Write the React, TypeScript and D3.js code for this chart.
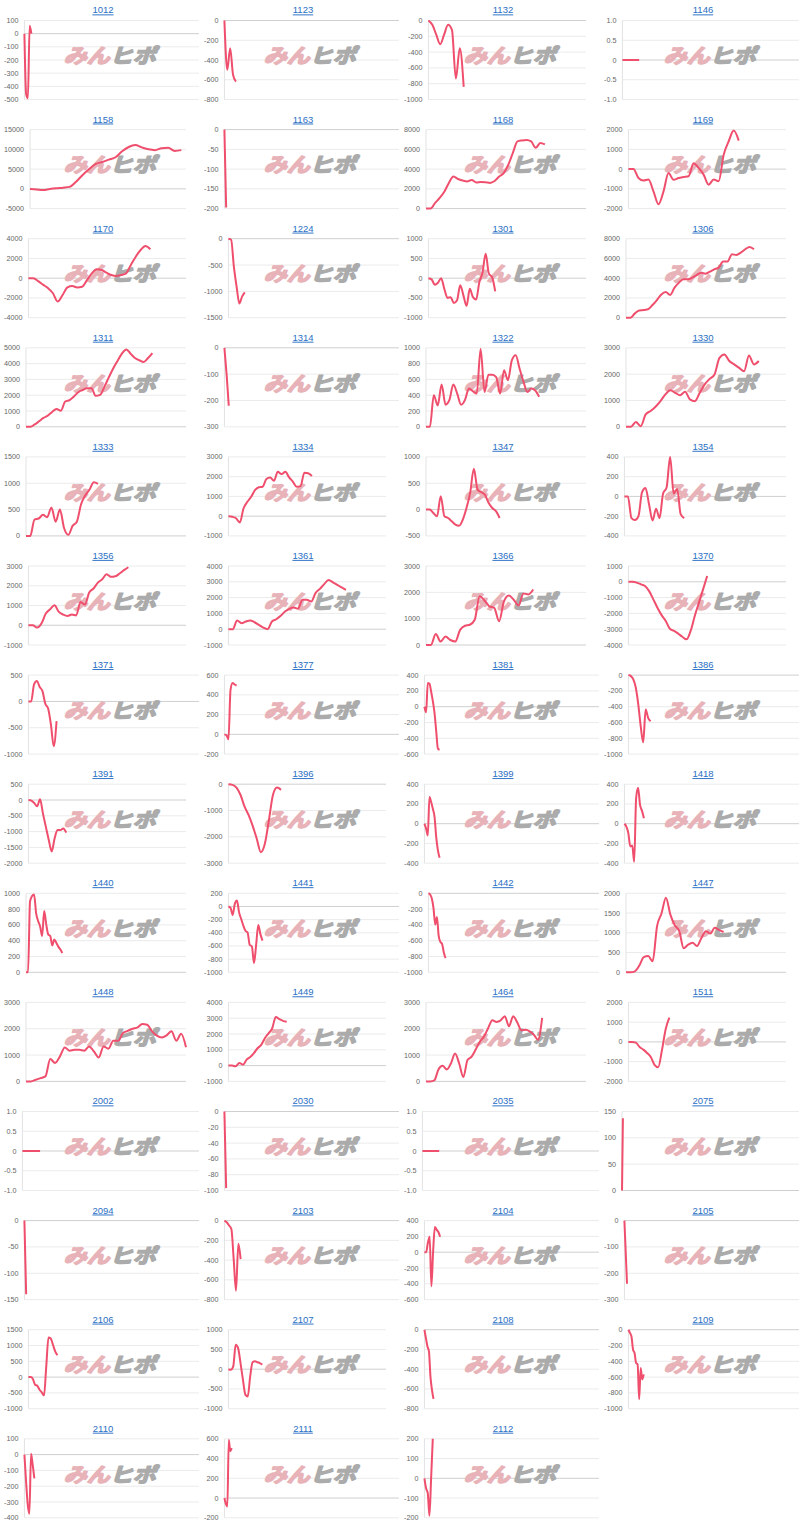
import React from 'react'
import * as d3 from 'd3'

// stock codes, in page order (4 per row)
const codes = [
  '1012', '1123', '1132', '1146',
  '1158', '1163', '1168', '1169',
  '1170', '1224', '1301', '1306',
  '1311', '1314', '1322', '1330',
  '1333', '1334', '1347', '1354',
  '1356', '1361', '1366', '1370',
  '1371', '1377', '1381', '1386',
  '1391', '1396', '1399', '1418',
  '1440', '1441', '1442', '1447',
  '1448', '1449', '1464', '1511',
  '2002', '2030', '2035', '2075',
  '2094', '2103', '2104', '2105',
  '2106', '2107', '2108', '2109',
  '2110', '2111', '2112',
]

// y axis [min, max, step] for each chart
const yAxes: [number, number, number][] = [
  [-500, 100, 100], [-800, 0, 200], [-1000, 0, 200], [-1, 1, 0.5],
  [-5000, 15000, 5000], [-200, 0, 50], [0, 8000, 2000], [-2000, 2000, 1000],
  [-4000, 4000, 2000], [-1500, 0, 500], [-1000, 1000, 500], [0, 8000, 2000],
  [0, 5000, 1000], [-300, 0, 100], [0, 1000, 200], [0, 3000, 1000],
  [0, 1500, 500], [-1000, 3000, 1000], [-500, 1000, 500], [-400, 400, 200],
  [-1000, 3000, 1000], [-1000, 4000, 1000], [0, 3000, 1000], [-4000, 1000, 1000],
  [-1000, 500, 500], [-200, 600, 200], [-600, 400, 200], [-1000, 0, 200],
  [-2000, 500, 500], [-3000, 0, 1000], [-400, 400, 200], [-400, 400, 200],
  [0, 1000, 200], [-1000, 200, 200], [-1000, 0, 200], [0, 2000, 500],
  [0, 3000, 1000], [-1000, 4000, 1000], [0, 3000, 1000], [-2000, 2000, 1000],
  [-1, 1, 0.5], [-100, 0, 20], [-1, 1, 0.5], [0, 150, 50],
  [-150, 0, 50], [-800, 0, 200], [-600, 400, 200], [-300, 0, 100],
  [-1000, 1500, 500], [-1000, 1000, 500], [-800, 0, 200], [-1000, 0, 200],
  [-400, 100, 100], [-200, 600, 200], [-200, 200, 100],
]

// last day reached by each series (out of DAYS)
const DAYS = 100
const lastDays = [
  4, 6.6, 22.4, 9.5,
  97, 1, 74.3, 70,
  77.4, 9.6, 42.4, 80,
  79, 2.5, 70.7, 83,
  45, 53, 46, 37,
  63.4, 74.6, 67, 50,
  16.5, 7, 8.7, 13,
  24, 33.4, 8.7, 11.2,
  22.7, 20, 10, 61,
  100, 37, 72.6, 26,
  10, 1, 9.5, 0.5,
  1, 9.3, 9, 1.5,
  17, 21.5, 5.2, 9,
  5.7, 4.2, 4.8,
]

// profit series
const series: number[][] = [
  [0, -460, -490, 60, 0],
  [0, -500, -280, -550, -620],
  [0, -55, -180, -300, -180, -55, -120, -735, -350, -840],
  [0, 0, 0, 0, 0],
  [0, -150, -300, -50, 150, 300, 500, 1800, 3500, 5000, 6300, 6800, 7400, 8000, 9500, 10600, 11100, 10500, 10000, 9800, 10300, 10400, 9600, 9800],
  [0, -197],
  [0, 0, 580, 1080, 1700, 2600, 3250, 3000, 2850, 2750, 2900, 2650, 2700, 2680, 2600, 2800, 3250, 3600, 4450, 5650, 6800, 6900, 6950, 6800, 6150, 6650, 6500],
  [0, 0, -450, -580, -530, -1130, -1780, -1130, -200, -540, -450, -400, -360, 300, 60, -280, -790, -530, -620, 730, 1410, 1950, 1440],
  [0, 0, -300, -650, -1000, -1500, -2350, -1700, -930, -800, -930, -860, -190, 490, 900, 830, 560, 320, 220, 320, 490, 1340, 2180, 2860, 3260, 2930],
  [0, -20, -530, -910, -1230, -1100, -1020],
  [0, -30, -165, -115, 0, -270, -500, -480, -630, -560, -180, -435, -700, -270, -480, -540, -100, 140, 620, 115, 30, -335],
  [0, 0, 440, 740, 780, 850, 1280, 1790, 2360, 2600, 2300, 3040, 3550, 3890, 3890, 4050, 4320, 4560, 4460, 4660, 4900, 5070, 5680, 5680, 6420, 6350, 6590, 6930, 7170, 6930],
  [0, 0, 150, 350, 560, 710, 940, 1130, 1020, 1600, 1690, 1920, 2190, 2330, 2440, 2440, 1960, 2020, 2540, 3125, 3690, 4170, 4625, 4900, 4625, 4350, 4210, 4100, 4350, 4670],
  [0, -100, -220],
  [0, 0, 400, 270, 535, 280, 340, 535, 420, 280, 340, 485, 450, 420, 985, 440, 660, 660, 630, 420, 715, 590, 840, 905, 735, 570, 440, 485, 460, 380],
  [0, 0, 180, 25, 470, 600, 760, 975, 1230, 1390, 1290, 1200, 1330, 1040, 975, 1290, 1610, 1820, 1990, 2620, 2750, 2500, 2370, 2240, 2110, 2710, 2370, 2500],
  [0, 0, 310, 330, 400, 355, 540, 270, 500, 145, 20, 190, 270, 600, 770, 880, 1020, 990],
  [0, -30, -110, -320, 400, 730, 980, 1320, 1460, 1490, 1880, 1960, 1790, 2250, 2130, 2250, 1960, 1740, 1490, 1520, 2200, 2170, 2030],
  [0, 0, -65, -127, 255, -127, -160, -222, -285, -305, -190, 30, 318, 775, 380, 330, 285, 128, 30, -30, -160],
  [0, 0, -220, -240, -200, 40, 85, -80, -245, -125, -220, 30, 90, 400, 30, 75, -180, -220],
  [0, 0, -120, 85, 590, 810, 1010, 675, 540, 470, 540, 500, 1180, 1050, 1660, 1860, 2160, 2330, 2580, 2450, 2480, 2620, 2790, 2940],
  [0, 0, 550, 380, 485, 550, 440, 275, 105, 0, 485, 630, 845, 1120, 1290, 1370, 1290, 1860, 1860, 1750, 2280, 2550, 2850, 3120, 2970, 2810, 2640, 2490],
  [0, 0, 420, 130, 320, 190, 130, 575, 730, 770, 960, 1850, 1690, 1470, 1410, 900, 1660, 1880, 1720, 1500, 1960, 1920, 2110],
  [0, 0, -50, -160, -270, -590, -1110, -1640, -2110, -2480, -2970, -3110, -3280, -3480, -3640, -3110, -2160, -1320, -480, 370],
  [0, 0, 325, 390, 275, 195, -45, -135, -440, -850, -375],
  [0, -10, -50, 450, 520, 505, 495],
  [0, -70, 300, 290, 190, 70, -80, -310, -530, -545],
  [0, -13, -55, -160, -370, -650, -850, -435, -540, -585],
  [0, -20, -95, -200, 20, -430, -850, -1265, -1630, -1215, -950, -950, -900, -1035],
  [0, -25, -130, -410, -855, -1175, -1585, -2070, -2580, -2260, -1370, -410, -130, -215],
  [0, -50, -120, 270, 220, 150, 70, -135, -270, -345],
  [0, -30, -95, -230, -220, -385, 260, 365, 190, 130, 55],
  [0, 0, 900, 965, 985, 750, 650, 580, 460, 775, 610, 480, 460, 340, 415, 375, 325, 290, 245],
  [0, -20, -130, 40, 90, -90, -190, -290, -370, -395, -585, -605, -860, -585, -280, -420, -520],
  [0, -15, -65, -190, -395, -300, -535, -615, -640, -745, -820],
  [0, 0, 25, 170, 385, 410, 280, 1170, 1490, 1890, 1460, 1190, 1040, 610, 700, 750, 665, 870, 1040, 980, 1125, 1070, 1020],
  [0, 0, 60, 125, 190, 850, 700, 950, 1290, 1165, 1200, 1200, 1165, 1330, 1140, 910, 1330, 1240, 1545, 1545, 1835, 1920, 2000, 2050, 2180, 2150, 1900, 1735, 1670, 1750, 1900, 1545, 1810, 1300],
  [0, 0, -40, 170, 60, 375, 540, 790, 1100, 1310, 1730, 2040, 2350, 3080, 2940, 2830, 2770],
  [0, 0, 40, 450, 590, 450, 680, 1060, 680, 165, 810, 940, 1220, 1510, 1710, 2030, 2320, 2260, 2320, 2475, 2090, 2475, 2240, 1940, 1960, 1900, 1770, 1580, 2410],
  [0, 0, -35, -255, -390, -560, -765, -1160, -1280, -425, 645, 1225],
  [0, 0, 0, 0, 0],
  [0, -97],
  [0, 0, 0, 0, 0],
  [0, 137],
  [0, -140],
  [0, -17, -50, -85, -390, -710, -235, -390],
  [0, 0, 120, 195, -430, 15, 320, 285, 255, 195],
  [0, -240],
  [0, 0, -60, -240, -275, -400, -485, -580, 340, 1255, 1220, 1025, 815, 690],
  [0, -15, 70, 620, 535, 155, -265, -645, -690, -180, 180, 200, 175, 155, 115],
  [0, -85, -170, -220, -475, -610, -700],
  [0, -40, -85, -250, -295, -420, -440, -880, -485, -630, -565],
  [0, -170, -315, -375, 5, -65, -150],
  [0, -60, -85, 590, 475, 505],
  [0, -50, -75, -190, 0, 200],
]

const COLS = 4
const CELL_W = 200
const ROW_H = 109.1
const TICK_FONT = 7.2
const FONT = '"Liberation Sans", Arial, Helvetica, sans-serif'

// rough Arial widths for the tick labels
const labelWidth = (s: string) =>
  s.split('').reduce((w, c) => w + (c === '-' ? 0.333 : c === '.' ? 0.278 : 0.556), 0) * TICK_FONT

const fmt = (v: number, step: number) => {
  if (Math.abs(v) < 1e-9) return '0'
  return step < 1 ? v.toFixed(1) : String(Math.round(v))
}

function MiniChart({idx}: {idx: number}) {
  const col = idx % COLS
  const row = Math.floor(idx / COLS)
  const cx = col * CELL_W
  const top = row * ROW_H
  const [min, max, step] = yAxes[idx]
  const values = series[idx]
  const last = lastDays[idx]

  const ticks = d3.range(min, max + step / 2, step)
  const labels = ticks.map(t => fmt(t, step))
  const maxW = d3.max(labels, labelWidth) || 0

  const left = cx + 4 + maxW + 6
  const right = cx + (last <= 20 ? 199 : 186)
  const plotTop = top + 20.5
  const plotBottom = top + 99.5

  const x = d3.scaleLinear().domain([0, DAYS]).range([left, right])
  const y = d3.scaleLinear().domain([min, max]).range([plotBottom, plotTop])

  const line = d3
    .line<number>()
    .x((_, i) => x(values.length > 1 ? (i * last) / (values.length - 1) : 0))
    .y(d => y(d))
    .curve(d3.curveMonotoneX)

  return (
    <g>
      <text
        x={cx + 103}
        y={top + 13.4}
        textAnchor="middle"
        fontSize={9.5}
        fontFamily={FONT}
        fill="#2a6fc4"
        style={{textDecoration: 'underline'}}>
        {codes[idx]}
      </text>

      {/* grid */}
      {ticks.map((t, i) => (
        <line
          key={i}
          x1={left}
          x2={right}
          y1={y(t)}
          y2={y(t)}
          stroke={Math.abs(t) < 1e-9 ? '#cfcfcf' : '#ebebeb'}
          strokeWidth={1}
        />
      ))}
      <line x1={left} x2={left} y1={plotTop} y2={plotBottom} stroke="#e2e2e2" />

      {ticks.map((t, i) => (
        <text
          key={'l' + i}
          x={left - 6}
          y={y(t)}
          dy="0.35em"
          textAnchor="end"
          fontSize={TICK_FONT}
          fontFamily={FONT}
          fill="#666">
          {labels[i]}
        </text>
      ))}

      {/* watermark */}
      <g transform={`translate(${cx + 112},${top + 56}) scale(1.15,1) skewX(-15)`}>
        <text
          textAnchor="middle"
          dy="0.36em"
          fontSize={20}
          fontWeight={700}
          strokeWidth={1.6}
          strokeLinejoin="round"
          fontFamily='"Noto Sans CJK JP", sans-serif'>
          <tspan fill="#e8b3b8" stroke="#e8b3b8">みん</tspan>
          <tspan fill="#ababab" stroke="#ababab">ヒポ</tspan>
        </text>
      </g>

      <path
        d={line(values) || ''}
        fill="none"
        stroke="#ef4f6d"
        strokeWidth={2}
        strokeLinejoin="round"
      />
    </g>
  )
}

export default function App() {
  return (
    <svg
      width={800}
      height={1528}
      style={{position: 'absolute', left: 0, top: 0, background: '#fff', display: 'block'}}>
      {codes.map((c, i) => (
        <MiniChart key={c} idx={i} />
      ))}
    </svg>
  )
}
